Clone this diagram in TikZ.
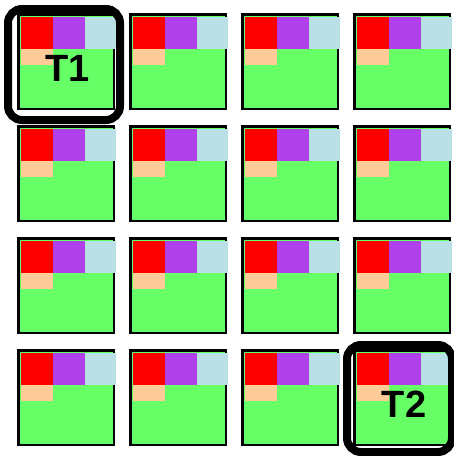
\documentclass[tikz,border=0pt]{standalone}
\usepackage{fontspec}
\setmainfont{Liberation Sans}
\definecolor{tgreen}{HTML}{66FF66}
\definecolor{tred}{HTML}{FF0000}
\definecolor{tpurple}{HTML}{B040EA}
\definecolor{tblue}{HTML}{B9E0E5}
\definecolor{tpeach}{HTML}{FFCC99}
\tikzset{
  tilebox/.style={draw=black,line width=2.5pt,fill=tgreen},
  ring/.style={draw=black,line width=8pt,rounded corners=14pt},
  tlabel/.style={font=\bfseries\fontsize{38}{38}\selectfont,inner sep=0pt}
}
\begin{document}
\begin{tikzpicture}[x=1pt,y=-1pt]
\useasboundingbox (0,0) rectangle (454,456);
\clip (0,0) rectangle (454,456);
\foreach \i in {0,1,2,3}{
  \foreach \j in {0,1,2,3}{
    \pgfmathsetmacro{\L}{17+112*\i}
    \pgfmathsetmacro{\T}{13+112*\j}
    \draw[tilebox] (\L+1.25,\T+1.25) rectangle (\L+96.75,\T+95.75);
    \fill[tred] (\L+3.5,\T+3.5) rectangle (\L+36,\T+35.5);
    \fill[tpurple] (\L+36,\T+3.5) rectangle (\L+68,\T+35.5);
    \fill[tblue] (\L+68,\T+3.5) rectangle (\L+98.5,\T+35.5);
    \fill[tpeach] (\L+3.5,\T+35.5) rectangle (\L+36,\T+51.5);
  }
}
\node[tlabel] (t1) at (67.5,68) {T1};
\node[tlabel] (t2) at (404,404) {T2};
\draw[ring] (8,9) rectangle (120,120);
\draw[ring] (347,345) rectangle (452,452);
\end{tikzpicture}
\end{document}
